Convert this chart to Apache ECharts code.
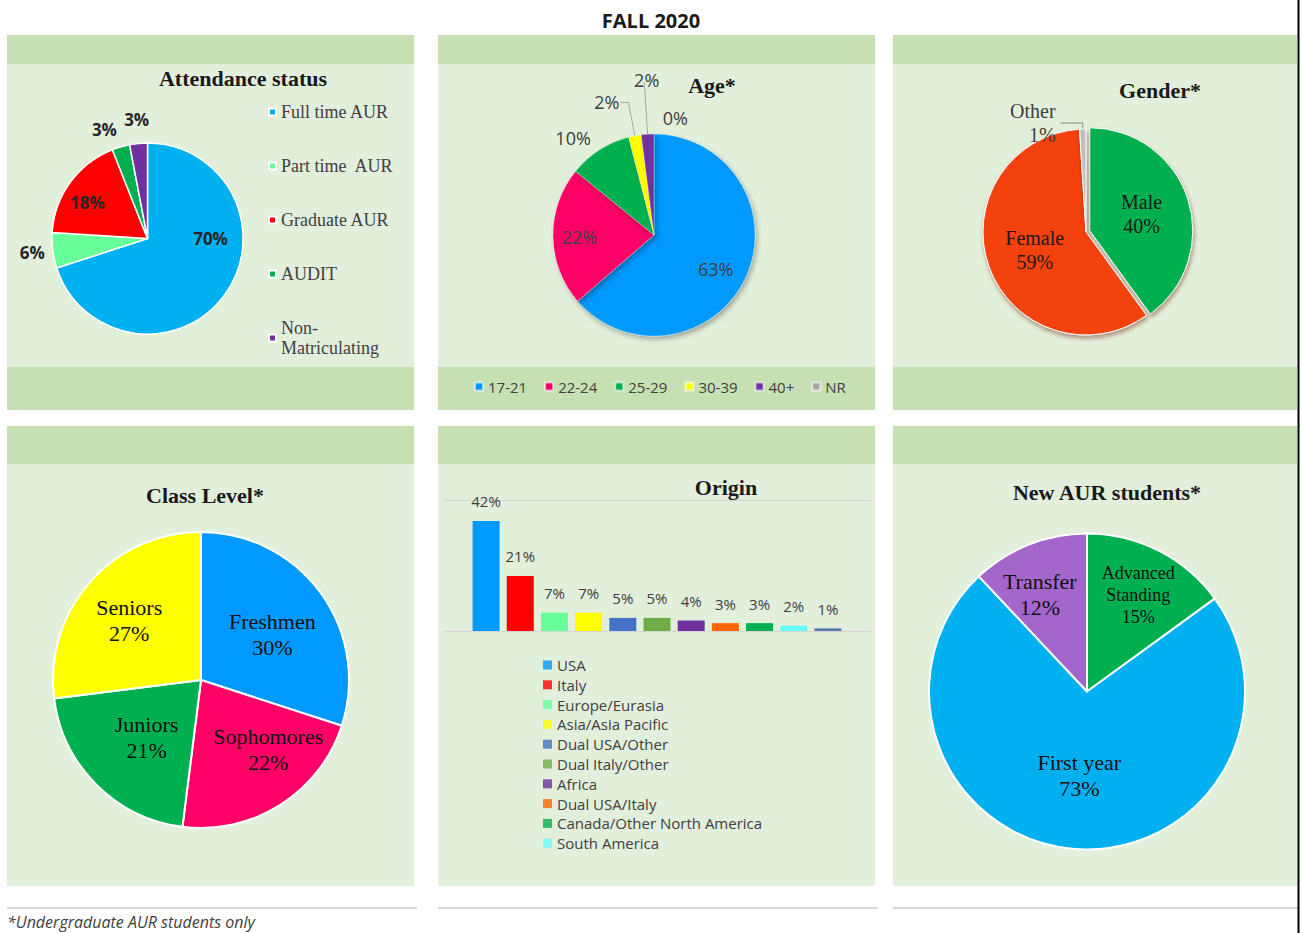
<!DOCTYPE html>
<html><head><meta charset="utf-8">
<script src="https://cdn.jsdelivr.net/npm/echarts@6/dist/echarts.min.js"></script>
<style>html,body{margin:0;padding:0;background:#fff}#c{width:1302px;height:933px}</style>
</head><body><div id="c"></div>
<script>
// ---------- data ----------
const attNames = ['Full time AUR', 'Part time  AUR', 'Graduate AUR', 'AUDIT', 'Non-Matriculating'];
const attValues = [70, 6, 18, 3, 3];
const ageNames = ['17-21', '22-24', '25-29', '30-39', '40+', 'NR'];
const ageValues = [63, 22, 10, 2, 2, 0];
const genderNames = ['Male', 'Female', 'Other'];
const genderValues = [40, 59, 1];
const classNames = ['Freshmen', 'Sophomores', 'Juniors', 'Seniors'];
const classValues = [30, 22, 21, 27];
const originNames = ['USA', 'Italy', 'Europe/Eurasia', 'Asia/Asia Pacific', 'Dual USA/Other', 'Dual Italy/Other', 'Africa', 'Dual USA/Italy', 'Canada/Other North America', 'South America', 'Other'];
const originValues = [42, 21, 7, 7, 5, 5, 4, 3, 3, 2, 1];
const originLegendCount = 10;
const newNames = ['Advanced Standing', 'First year', 'Transfer'];
const newValues = [15, 73, 12];

// ---------- styles ----------
const attColors = ['#00b0f0', '#66ff99', '#ff0000', '#00b050', '#7030a0'];
const ageColors = ['#0099ff', '#ff0066', '#00b050', '#ffff00', '#7030a0', '#a6a6a6'];
const genderColors = ['#00b050', '#f3420f', '#bfbfbf'];
const classColors = ['#0099ff', '#ff0066', '#00b050', '#ffff00'];
const originColors = ['#0099ff', '#ff0000', '#66ff99', '#ffff00', '#4472c4', '#70ad47', '#7030a0', '#ff6600', '#00b050', '#66ffff', '#5a78b0'];
const newColors = ['#00b050', '#00b0f0', '#a566cc'];

const SERIF = '"Liberation Serif", "DejaVu Serif", serif';
const SANS = '"Open Sans", "Noto Sans", sans-serif';
const STRIPE = '#c6e0b4', LIGHT = '#e2efda';

const attShift = [[22, -30], [11, 0], [-19, -6], [5, -4], [17, -10]];
const ageShift = [[13, 12], [-21, 1], [12, 0], [4, 0], [20, -2], [45, 0]];
const ageLine = [null, null, { show: false, length: 14, length2: 8 }, { show: true, length: 34, length2: 8 },
  { show: true, length: 52, length2: 0 }, { show: false, length: 16, length2: 6 }];
const classShift = [[9, 0], [26, 4], [0, 3], [-14, -9]];
const newShift = [[14, -23], [0, 2], [-17, -21]];
const shiftLayout = (arr) => (p) => ({ dx: arr[p.dataIndex][0], dy: arr[p.dataIndex][1] });

// ---------- graphics (panel backgrounds, titles) ----------
const cols = [[7, 414], [438, 875], [893, 1297]];
const graphic = [];
cols.forEach(([x0, x1]) => {
  const w = x1 - x0;
  graphic.push({ type: 'rect', shape: { x: x0, y: 35, width: w, height: 29 }, style: { fill: STRIPE }, z: -10 });
  graphic.push({ type: 'rect', shape: { x: x0, y: 64, width: w, height: 303 }, style: { fill: LIGHT }, z: -10 });
  graphic.push({ type: 'rect', shape: { x: x0, y: 367, width: w, height: 43 }, style: { fill: STRIPE }, z: -10 });
  graphic.push({ type: 'rect', shape: { x: x0, y: 426, width: w, height: 38 }, style: { fill: STRIPE }, z: -10 });
  graphic.push({ type: 'rect', shape: { x: x0, y: 464, width: w, height: 422 }, style: { fill: LIGHT }, z: -10 });
  graphic.push({ type: 'line', shape: { x1: x0, y1: 908, x2: x1 + 3, y2: 908 }, style: { stroke: '#c8c8c8', lineWidth: 1.5 }, z: -10 });
});
graphic.push({ type: 'line', shape: { x1: 1298.5, y1: 0, x2: 1298.5, y2: 933 }, style: { stroke: '#000', lineWidth: 2 }, z: 50 });
function title(text, x, y, font) {
  graphic.push({ type: 'text', x: x, y: y, z: 60,
    style: { text: text, fill: '#1a1a1a', font: font || ('bold 22px ' + SERIF), textAlign: 'center', textVerticalAlign: 'middle' } });
}
title('FALL 2020', 651, 20, 'bold 20px ' + SANS);
title('Attendance status', 243, 78);
title('Age*', 712, 85);
title('Gender*', 1160, 90);
title('Class Level*', 205, 495);
title('Origin', 726, 487);
title('New AUR students*', 1107, 492);
graphic.push({ type: 'text', x: 7, y: 922, z: 60,
  style: { text: '*Undergraduate AUR students only', fill: '#404040', font: 'italic 16px ' + SANS, textAlign: 'left', textVerticalAlign: 'middle' } });

// ---------- series ----------
const noEmph = { disabled: true };
const series = [];

series.push({
  type: 'pie', name: 'Attendance status', center: [147.5, 238.5], radius: 95.5, startAngle: 90, clockwise: true,
  avoidLabelOverlap: false, emphasis: noEmph,
  itemStyle: { borderColor: '#fff', borderWidth: 1.5 },
  label: { position: 'outside', formatter: '{c}%', fontWeight: 'bold', fontSize: 17, fontFamily: SANS, color: '#262626' },
  labelLine: { show: false, length: 14, length2: 0 },
  labelLayout: shiftLayout(attShift),
  data: attNames.map((n, i) => ({ name: n, value: attValues[i], itemStyle: { color: attColors[i] },
    label: { position: (i === 0 || i === 2) ? 'inside' : 'outside' } }))
});

series.push({
  type: 'pie', name: 'Age', center: [654, 235], radius: 101, startAngle: 90, clockwise: true,
  avoidLabelOverlap: false, emphasis: noEmph,
  itemStyle: { borderColor: 'rgba(255,255,255,0.6)', borderWidth: 0.5, shadowBlur: 5, shadowOffsetX: 2, shadowOffsetY: 3, shadowColor: 'rgba(0,0,0,0.3)' },
  label: { position: 'outside', formatter: '{c}%', fontSize: 18, fontFamily: SANS, color: '#404040' },
  labelLine: { show: true, length: 14, length2: 8, lineStyle: { color: '#a6a6a6', width: 1 } },
  labelLayout: shiftLayout(ageShift),
  data: ageNames.map((n, i) => {
    const d = { name: n, value: ageValues[i], itemStyle: { color: ageColors[i] },
      label: { position: i < 2 ? 'inside' : 'outside' } };
    if (ageLine[i]) d.labelLine = ageLine[i];
    return d;
  })
});

series.push({
  type: 'pie', name: 'Gender', center: [1086, 232], radius: 103, startAngle: 90, clockwise: true,
  emphasis: noEmph, selectedMode: 'single', selectedOffset: 4,
  itemStyle: { borderColor: '#fff', borderWidth: 1, shadowBlur: 4, shadowOffsetX: 1, shadowOffsetY: 3, shadowColor: 'rgba(110,20,0,0.45)' },
  label: { position: 'inside', formatter: '{b}\n{c}%', fontSize: 20, lineHeight: 24, fontFamily: SERIF, color: '#1a1a1a' },
  labelLine: { show: true, length: 6, length2: 22, lineStyle: { color: '#a6a6a6', width: 1.5 } },
  data: genderNames.map((n, i) => ({ name: n, value: genderValues[i], selected: i === 0,
    itemStyle: { color: genderColors[i] },
    label: { position: i === 2 ? 'outside' : 'inside', color: i === 2 ? '#404040' : '#1a1a1a' } }))
});

series.push({
  type: 'pie', name: 'Class Level', center: [201, 680], radius: 148, startAngle: 90, clockwise: true,
  emphasis: noEmph,
  itemStyle: { borderColor: '#fff', borderWidth: 2 },
  label: { position: 'inside', formatter: '{b}\n{c}%', fontSize: 22, lineHeight: 26, fontFamily: SERIF, color: '#111' },
  labelLayout: shiftLayout(classShift),
  data: classNames.map((n, i) => ({ name: n, value: classValues[i], itemStyle: { color: classColors[i] } }))
});

series.push({
  type: 'pie', name: 'New AUR students', center: [1087, 691.5], radius: 158, startAngle: 90, clockwise: true,
  emphasis: noEmph,
  itemStyle: { borderColor: '#fff', borderWidth: 2 },
  label: { position: 'inside', fontFamily: SERIF, color: '#111', fontSize: 22, lineHeight: 26,
    formatter: (p) => (p.name === 'Advanced Standing' ? 'Advanced\nStanding' : p.name) + '\n' + p.value + '%' },
  labelLayout: shiftLayout(newShift),
  data: newNames.map((n, i) => ({ name: n, value: newValues[i], itemStyle: { color: newColors[i] },
    label: i === 0 ? { fontSize: 18, lineHeight: 22 } : {} }))
});

series.push({
  type: 'bar', name: 'Origin', barWidth: 27, emphasis: noEmph,
  label: { show: true, position: 'top', distance: 12, fontSize: 15, fontFamily: SANS, color: '#404040',
    formatter: (p) => p.value[1] + '%' },
  data: originValues.map((v, i) => ({ value: [i, v], itemStyle: { color: originColors[i] } }))
});
// legend entries for origin
originNames.slice(0, originLegendCount).forEach((n, i) => {
  series.push({ type: 'scatter', name: n, data: [], itemStyle: { color: originColors[i] } });
});

const option = {
  animation: false,
  backgroundColor: '#ffffff',
  graphic: graphic,
  grid: { left: 443, top: 500, width: 428, height: 131, outerBoundsMode: 'none', containLabel: false },
  xAxis: { type: 'value', min: -1.26, max: 11.26, show: false },
  yAxis: { type: 'value', min: 0, max: 50, interval: 50,
    axisLine: { show: false }, axisTick: { show: false }, axisLabel: { show: false },
    splitLine: { show: true, lineStyle: { color: '#d4d4d4', width: 1.2 } } },
  legend: [
    { orient: 'vertical', left: 263, top: 97, icon: 'rect', itemWidth: 7, itemHeight: 7, itemGap: 34, itemTextGap: 5,
      selectedMode: false,
      textStyle: { fontFamily: SERIF, fontSize: 18, lineHeight: 20, color: '#404040' },
      formatter: (n) => n === 'Non-Matriculating' ? 'Non-\nMatriculating' : n,
      data: attNames },
    { orient: 'horizontal', left: 469, top: 374, icon: 'rect', itemWidth: 8, itemHeight: 8, itemGap: 17, itemTextGap: 4,
      selectedMode: false,
      textStyle: { fontFamily: SANS, fontSize: 15, color: '#404040' },
      data: ageNames },
    { orient: 'vertical', left: 538, top: 652, icon: 'rect', itemWidth: 9, itemHeight: 9, itemGap: 3.8, itemTextGap: 5,
      selectedMode: false,
      textStyle: { fontFamily: SANS, fontSize: 15, lineHeight: 16, color: '#404040' },
      data: originNames.slice(0, originLegendCount) }
  ],
  series: series
};

const chart = echarts.init(document.getElementById('c'), null, { renderer: 'svg', width: 1302, height: 933 });
chart.setOption(option);
</script>
</body></html>
